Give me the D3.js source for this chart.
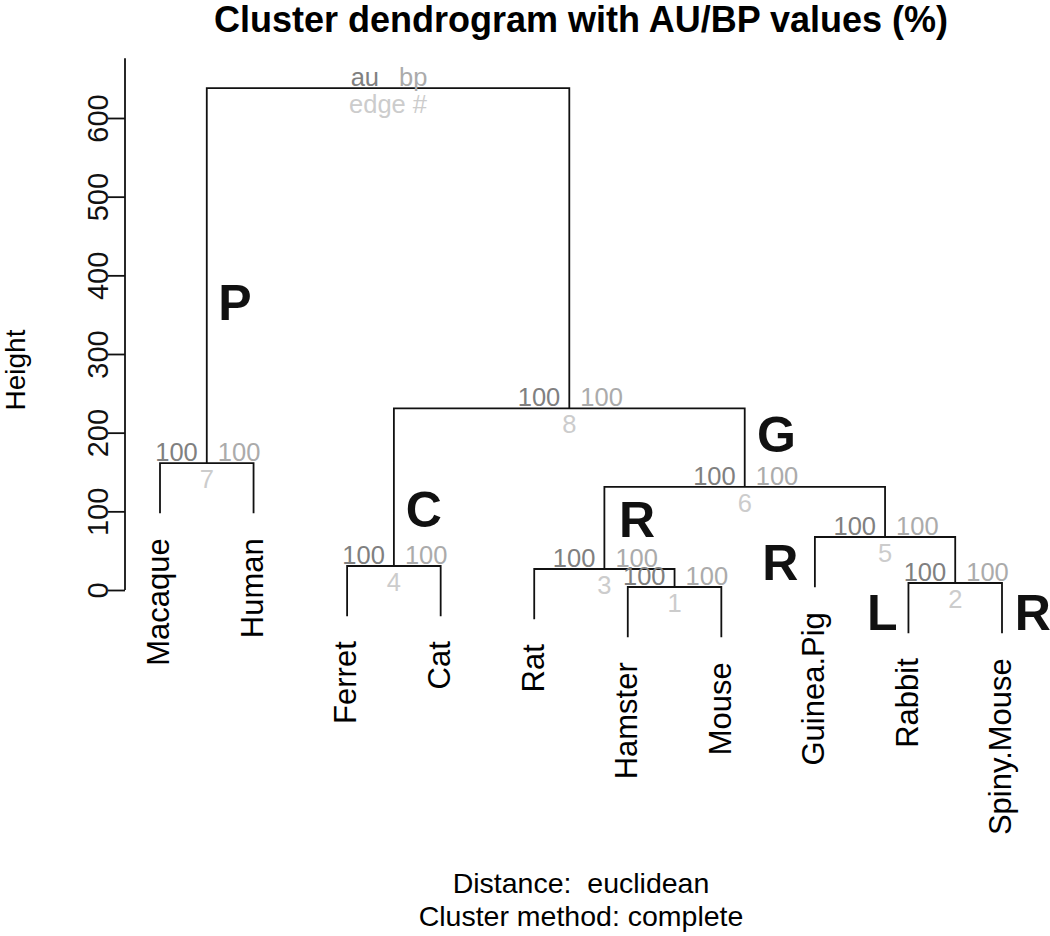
<!DOCTYPE html>
<html>
  <head>
    <meta http-equiv="Content-Type" content="text/html;charset=utf-8">
    <title>Cluster dendrogram with AU/BP values</title>
    <script type="text/javascript" src="https://d3js.org/d3.v7.min.js"></script>
    <style>
      html, body {
        margin: 0;
        padding: 0;
        background: #fff;
      }
      text {
        font-family: "Liberation Sans", Arial, Helvetica, sans-serif;
      }
      path.branch {
        fill: none;
        stroke: #111;
        stroke-width: 1.8px;
      }
      .axis line, .axis path {
        stroke: #111;
        stroke-width: 1.8px;
      }
    </style>
  </head>
  <body>
    <script type="text/javascript">

// leaves in plotting order
var leafNames = ["Macaque", "Human", "Ferret", "Cat", "Rat", "Hamster", "Mouse", "Guinea.Pig", "Rabbit", "Spiny.Mouse"];

// hclust style merge matrix: negative = leaf (1-based), positive = earlier merge (edge #)
var merges = [[-6, -7], [-9, -10], [-5, 1], [-3, -4], [-8, 2], [3, 5], [-1, -2], [4, 6], [7, 8]];
var mergeHeights = [3.8, 8.9, 26.7, 30.5, 67.4, 131, 161.4, 231, 638];

// au / bp for edges 1..8
var auValues = [100, 100, 100, 100, 100, 100, 100, 100];
var bpValues = [100, 100, 100, 100, 100, 100, 100, 100];

var yTicks = [0, 100, 200, 300, 400, 500, 600];

// group letters (leaf position, height)
var groupLetters = ["P", "C", "G", "R", "R", "L", "R"];
var letterLeafPos = [1.80, 3.82, 7.59, 6.10, 7.63, 8.72, 10.33];
var letterHeights = [343, 80, 175, 67, 12.7, -51, -51];

var W = 1050, H = 936;
var hang = 0.1 * d3.max(mergeHeights);

var x = d3.scaleLinear().domain([1, leafNames.length]).range([160, 1002]);
var y = d3.scaleLinear().domain([0, 600]).range([590, 118]);

// build tree
function buildNode(id) {
  if (id < 0) return { name: leafNames[-id - 1], leaf: -id, height: null };
  var m = merges[id - 1];
  return { edge: id, height: mergeHeights[id - 1], children: [buildNode(m[0]), buildNode(m[1])] };
}
var root = d3.hierarchy(buildNode(merges.length));
root.eachAfter(function(d) {
  if (!d.children) {
    d.px = d.data.leaf;
    d.h = d.parent.data.height - hang;
  } else {
    d.px = d3.mean(d.children, function(c) { return c.px; });
    d.h = d.data.height;
  }
});

var svg = d3.select("body").append("svg").attr("width", W).attr("height", H);

// branches
var pathStr = "";
root.each(function(d) {
  if (!d.children) return;
  var a = d.children[0], b = d.children[1];
  pathStr += "M" + x(a.px) + "," + y(a.h) + "V" + y(d.h) + "H" + x(b.px) + "V" + y(b.h);
});
svg.append("path").attr("class", "branch").attr("d", pathStr);

// leaf labels
svg.selectAll("text.leaf")
  .data(root.leaves())
  .enter().append("text")
  .attr("class", "leaf")
  .attr("font-size", "31px")
  .attr("text-anchor", "end")
  .attr("dy", "0.3em")
  .attr("transform", function(d) { return "translate(" + x(d.px) + "," + (y(d.h) + 25) + ") rotate(-90)"; })
  .text(function(d) { return d.data.name; });

// au / bp / edge labels
var inner = root.descendants().filter(function(d) { return d.children && d.data.edge < merges.length; });
var pv = svg.append("g").attr("font-size", "25.5px");
pv.selectAll("text.au").data(inner).enter().append("text")
  .attr("x", function(d) { return x(d.px) - 9; })
  .attr("y", function(d) { return y(d.h) - 2; })
  .attr("text-anchor", "end").attr("fill", "#808080")
  .text(function(d) { return auValues[d.data.edge - 1]; });
pv.selectAll("text.bp").data(inner).enter().append("text")
  .attr("x", function(d) { return x(d.px) + 11; })
  .attr("y", function(d) { return y(d.h) - 2; })
  .attr("text-anchor", "start").attr("fill", "#ababab")
  .text(function(d) { return bpValues[d.data.edge - 1]; });
pv.selectAll("text.edge").data(inner).enter().append("text")
  .attr("x", function(d) { return x(d.px); })
  .attr("y", function(d) { return y(d.h) + 25; })
  .attr("text-anchor", "middle").attr("fill", "#cccccc")
  .text(function(d) { return d.data.edge; });

// legend at the root
pv.append("text").attr("x", x(root.px) - 9).attr("y", y(root.h) - 2)
  .attr("text-anchor", "end").attr("fill", "#808080").text("au");
pv.append("text").attr("x", x(root.px) + 11).attr("y", y(root.h) - 2)
  .attr("text-anchor", "start").attr("fill", "#ababab").text("bp");
pv.append("text").attr("x", x(root.px)).attr("y", y(root.h) + 25)
  .attr("text-anchor", "middle").attr("fill", "#cccccc").text("edge #");

// group letters
svg.selectAll("text.grp")
  .data(groupLetters)
  .enter().append("text")
  .attr("x", function(d, i) { return x(letterLeafPos[i]); })
  .attr("y", function(d, i) { return y(letterHeights[i]); })
  .attr("text-anchor", "middle")
  .attr("font-size", "50px").attr("font-weight", "bold").attr("fill", "#111")
  .text(function(d) { return d; });

// y axis
var yAxis = d3.axisLeft(y).tickValues(yTicks).tickSize(17).tickSizeOuter(0);
var ax = svg.append("g").attr("class", "axis").attr("transform", "translate(125,0)").call(yAxis);
ax.select(".domain").remove();
ax.append("line").attr("x1", 0).attr("x2", 0).attr("y1", y(0)).attr("y2", y(676));
ax.selectAll(".tick text")
  .attr("x", 0).attr("y", -17).attr("dy", 0)
  .attr("text-anchor", "middle")
  .attr("transform", "rotate(-90)")
  .attr("font-size", "29px").attr("fill", "#111")
  .attr("font-family", "'Liberation Sans', Arial, Helvetica, sans-serif");

svg.append("text")
  .attr("transform", "translate(25,370) rotate(-90)")
  .attr("text-anchor", "middle").attr("font-size", "28px")
  .text("Height");

// title and subtitles
svg.append("text").attr("x", 581).attr("y", 32)
  .attr("text-anchor", "middle").attr("font-size", "36px").attr("font-weight", "bold")
  .text("Cluster dendrogram with AU/BP values (%)");
svg.append("text").attr("x", 581).attr("y", 893)
  .attr("text-anchor", "middle").attr("font-size", "28.5px")
  .style("white-space", "pre")
  .text("Distance:  euclidean");
svg.append("text").attr("x", 581).attr("y", 926)
  .attr("text-anchor", "middle").attr("font-size", "28.5px")
  .text("Cluster method: complete");

    </script>
  </body>
</html>
